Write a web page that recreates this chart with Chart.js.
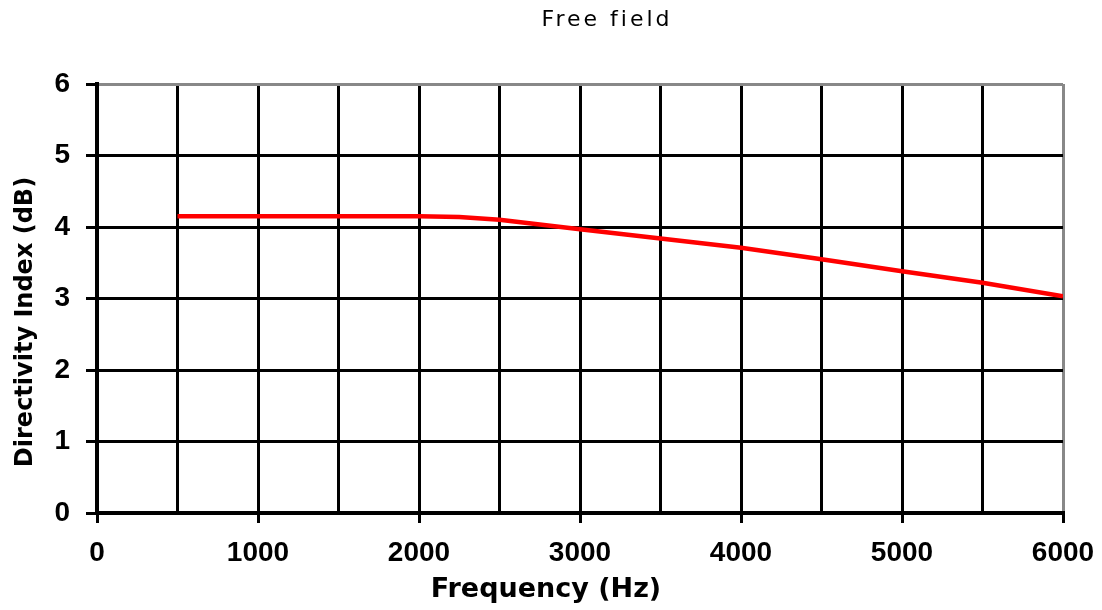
<!DOCTYPE html>
<html>
<head>
<meta charset="utf-8">
<script src="https://cdn.jsdelivr.net/npm/chart.js@4"></script>
<style>
  html, body { margin: 0; padding: 0; background: #fff; }
  #wrap { width: 1102px; height: 610px; }
</style>
</head>
<body>
<div id="wrap"><canvas id="myChart"></canvas></div>
<script>
// Directivity index vs frequency, free field
const frequencies = [500, 1000, 1500, 2000, 2250, 2500, 3000, 3500, 4000, 4500, 5000, 5500, 6000];
const directivity = [4.15, 4.15, 4.15, 4.15, 4.14, 4.10, 3.97, 3.84, 3.71, 3.55, 3.38, 3.22, 3.03];
const xTickLabels = [0, 1000, 2000, 3000, 4000, 5000, 6000];
const yTickLabels = [0, 1, 2, 3, 4, 5, 6];

const points = frequencies.map((f, i) => ({ x: f, y: directivity[i] }));

// chart title and axis titles, drawn by hand so they sit where the original has them
const titlePlugin = {
    id: 'freeFieldTitle',
    afterDraw(chart) {
        const ctx = chart.ctx;
        ctx.save();
        ctx.fillStyle = '#000';
        ctx.textAlign = 'center';
        ctx.textBaseline = 'middle';

        ctx.font = '22px "DejaVu Sans"';
        ctx.letterSpacing = '3px';
        ctx.fillText('Free field', 607, 20);
        ctx.letterSpacing = '0px';

        ctx.font = 'bold 27px "DejaVu Sans"';
        ctx.fillText('Frequency (Hz)', 546, 590);

        ctx.translate(26, 322);
        ctx.rotate(-Math.PI / 2);
        ctx.font = 'bold 24px "DejaVu Sans"';
        ctx.fillText('Directivity Index (dB)', 0, 0);
        ctx.restore();
    }
};

const bgPlugin = {
    id: 'whiteBg',
    beforeDraw(chart) {
        const ctx = chart.ctx;
        ctx.save();
        ctx.fillStyle = '#fff';
        ctx.fillRect(0, 0, chart.width, chart.height);
        ctx.restore();
    }
};

const ctx = document.getElementById('myChart').getContext('2d');
const myChart = new Chart(ctx, {
    type: 'line',
    data: {
        datasets: [{
            label: 'Free field',
            data: points,
            borderColor: '#ff0000',
            borderWidth: 4.5,
            pointRadius: 0,
            tension: 0,
            fill: false
        }]
    },
    options: {
        responsive: true,
        maintainAspectRatio: false,
        animation: false,
        layout: { padding: { top: 84, right: 39, left: 0, bottom: 0 } },
        plugins: {
            legend: { display: false },
            title: { display: false },
            tooltip: { enabled: false }
        },
        scales: {
            x: {
                type: 'linear',
                min: 0,
                max: 6000,
                afterFit: s => {
                    s.height = 97;
                    s.paddingLeft = 0;
                    s.paddingRight = 0;
                },
                afterBuildTicks: s => {
                    const t = [];
                    for (let v = 0; v <= 6000; v += 500) t.push({ value: v });
                    s.ticks = t;
                },
                ticks: {
                    autoSkip: false,
                    maxRotation: 0,
                    padding: 13,
                    color: '#000',
                    font: { family: '"Liberation Sans"', weight: 'bold', size: 28 },
                    callback: v => xTickLabels.includes(v) ? String(v) : ''
                },
                grid: {
                    color: c => (c.tick && c.tick.value === 6000) ? '#888' : '#000',
                    lineWidth: 3,
                    tickLength: 10,
                    tickColor: c => (c.tick && c.tick.value % 1000 === 0) ? '#000' : 'rgba(0,0,0,0)'
                },
                border: { color: '#000', width: 4 }
            },
            y: {
                min: 0,
                max: 6,
                afterFit: s => { s.width = 97; },
                afterBuildTicks: s => { s.ticks = yTickLabels.map(v => ({ value: v })); },
                ticks: {
                    padding: 16,
                    color: '#000',
                    font: { family: '"Liberation Sans"', weight: 'bold', size: 28 }
                },
                grid: {
                    color: c => (c.tick && c.tick.value === 6) ? '#888' : '#000',
                    lineWidth: 3,
                    tickLength: 11,
                    tickColor: '#000'
                },
                border: { color: '#000', width: 4 }
            }
        }
    },
    plugins: [bgPlugin, titlePlugin]
});
</script>
</body>
</html>
